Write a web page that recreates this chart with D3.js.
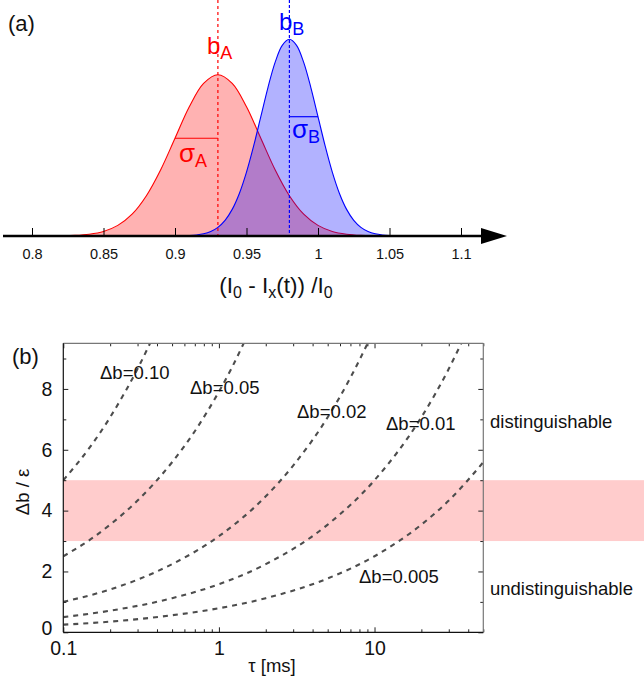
<!DOCTYPE html>
<html>
<head>
<meta charset="utf-8">
<script src="https://cdn.jsdelivr.net/npm/d3@7"></script>
<style>
  html, body { margin: 0; padding: 0; background: #fff; }
  svg { display: block; font-family: "Liberation Sans", Arial, Helvetica, sans-serif; }
</style>
</head>
<body>
<svg id="chart" width="644" height="679"></svg>
<script>
// ---------- Panel (a) data ----------
const topTickValues = [0.8, 0.85, 0.9, 0.95, 1.0, 1.05, 1.1];
const topTickLabels = ["0.8", "0.85", "0.9", "0.95", "1", "1.05", "1.1"];

const bA = 0.93, sigmaA = 0.03;
const bB = 0.98, sigmaB = 0.02;

// distribution A (relative height)
const xA = [0.78, 0.80, 0.81, 0.82, 0.83, 0.84, 0.85, 0.86, 0.87, 0.88, 0.89, 0.90, 0.91, 0.92, 0.93,
            0.94, 0.95, 0.96, 0.97, 0.98, 0.99, 1.00, 1.01, 1.02, 1.03, 1.04, 1.05, 1.06, 1.08];
const yA = [0.0000, 0.0001, 0.0003, 0.001, 0.003, 0.009, 0.023, 0.054, 0.111, 0.205, 0.337, 0.497, 0.657, 0.776, 0.820,
            0.776, 0.657, 0.497, 0.337, 0.205, 0.111, 0.054, 0.023, 0.009, 0.003, 0.001, 0.0003, 0.0001, 0.0000];
const sigmaAHeight = 0.497;

// distribution B
const xB = [0.86, 0.89, 0.895, 0.90, 0.905, 0.91, 0.915, 0.92, 0.925, 0.93, 0.935, 0.94, 0.945, 0.95, 0.955, 0.96, 0.965, 0.97, 0.975, 0.98,
            0.985, 0.99, 0.995, 1.00, 1.005, 1.01, 1.015, 1.02, 1.025, 1.03, 1.035, 1.04, 1.045, 1.05, 1.055, 1.06, 1.065, 1.07, 1.10];
const yB = [0.0000, 0.0000, 0.0001, 0.0003, 0.0009, 0.0022, 0.0051, 0.0111, 0.0228, 0.0439, 0.0796, 0.1353, 0.2163, 0.3247, 0.4578, 0.6065, 0.7548, 0.8825, 0.9692, 1.0000,
            0.9692, 0.8825, 0.7548, 0.6065, 0.4578, 0.3247, 0.2163, 0.1353, 0.0796, 0.0439, 0.0228, 0.0111, 0.0051, 0.0022, 0.0009, 0.0003, 0.0001, 0.0000, 0.0000];
const sigmaBHeight = 0.6065;

// ---------- Panel (b) data ----------
const bottomMajorX = [0.1, 1, 10];
const bottomMajorXLabels = ["0.1", "1", "10"];
const bottomMinorX = [0.2,0.3,0.4,0.5,0.6,0.7,0.8,0.9,2,3,4,5,6,7,8,9,20,30,40,50];
const bottomMajorY = [0, 2, 4, 6, 8];
const bottomMinorY = [1, 3, 5, 7, 9];
const bandLow = 3, bandHigh = 5;

const curveLabels = ["Δb=0.10", "Δb=0.05", "Δb=0.02", "Δb=0.01", "Δb=0.005"];
const tau010 = [0.1, 0.15, 0.2, 0.25, 0.3, 0.361];
const val010 = [5.0, 6.12, 7.07, 7.91, 8.66, 9.5];
const tau005 = [0.1, 0.15, 0.2, 0.3, 0.5, 0.7, 1.0, 1.2, 1.44];
const val005 = [2.5, 3.06, 3.54, 4.33, 5.59, 6.61, 7.91, 8.66, 9.49];
const tau002 = [0.1, 0.2, 0.3, 0.5, 1, 2, 3, 5, 7, 9.03];
const val002 = [1.0, 1.41, 1.73, 2.24, 3.16, 4.47, 5.48, 7.07, 8.37, 9.5];
const tau001 = [0.1, 0.2, 0.5, 1, 2, 5, 10, 20, 30, 36.1];
const val001 = [0.5, 0.71, 1.12, 1.58, 2.24, 3.54, 5.0, 7.07, 8.66, 9.5];
const tau0005 = [0.1, 0.2, 0.5, 1, 2, 5, 10, 20, 30, 50];
const val0005 = [0.25, 0.35, 0.56, 0.79, 1.12, 1.77, 2.5, 3.54, 4.33, 5.59];

// ================= drawing =================
const svg = d3.select("#chart");

// ---------- Panel (a) ----------
const tx = d3.scaleLinear().domain([0.8, 1.1]).range([32, 461]);
const ty = d3.scaleLinear().domain([0, 1]).range([236, 39.3]);
const gA = svg.append("g");

const area = d3.area().x(d => tx(d[0])).y0(ty(0)).y1(d => ty(d[1])).curve(d3.curveCatmullRom);
const line = d3.line().x(d => tx(d[0])).y(d => ty(d[1])).curve(d3.curveCatmullRom);
const dataA = xA.map((x, i) => [x, yA[i]]);
const dataB = xB.map((x, i) => [x, yB[i]]);

gA.append("path").datum(dataA).attr("d", area).attr("fill", "rgba(255,0,0,0.3)");
gA.append("path").datum(dataA).attr("d", line).attr("fill", "none").attr("stroke", "#ff0000").attr("stroke-width", 1.1);
gA.append("path").datum(dataB).attr("d", area).attr("fill", "rgba(0,0,255,0.3)");
gA.append("path").datum(dataB).attr("d", line).attr("fill", "none").attr("stroke", "#0000ff").attr("stroke-width", 1.1);

// vertical dashed lines
gA.append("line").attr("x1", tx(bA)).attr("x2", tx(bA)).attr("y1", 0).attr("y2", ty(0))
  .attr("stroke", "#ff0000").attr("stroke-width", 1.2).attr("stroke-dasharray", "3,3");
gA.append("line").attr("x1", tx(bB)).attr("x2", tx(bB)).attr("y1", 0).attr("y2", ty(0))
  .attr("stroke", "#0000ff").attr("stroke-width", 1.2).attr("stroke-dasharray", "3,2");

// sigma lines
gA.append("line").attr("x1", tx(bA - sigmaA)).attr("x2", tx(bA)).attr("y1", ty(sigmaAHeight)).attr("y2", ty(sigmaAHeight))
  .attr("stroke", "#ff0000").attr("stroke-width", 1.2);
gA.append("line").attr("x1", tx(bB)).attr("x2", tx(bB + sigmaB)).attr("y1", ty(sigmaBHeight)).attr("y2", ty(sigmaBHeight))
  .attr("stroke", "#0000ff").attr("stroke-width", 1.2);

// axis with arrow
const axA = gA.append("g").attr("transform", `translate(0,${ty(0)})`)
  .call(d3.axisBottom(tx).tickValues(topTickValues).tickFormat((d, i) => topTickLabels[i])
        .tickSizeInner(-8).tickSizeOuter(0).tickPadding(13));
axA.select(".domain").remove();
axA.selectAll("line").attr("stroke", "#000");
axA.selectAll("text").attr("font-size", 14.5).attr("fill", "#111").attr("font-family", "Liberation Sans, Arial, sans-serif");
gA.append("line").attr("x1", 3).attr("x2", 484).attr("y1", ty(0)).attr("y2", ty(0)).attr("stroke", "#000").attr("stroke-width", 2.5);
gA.append("path").attr("d", `M481,${ty(0) - 8}L507,${ty(0)}L481,${ty(0) + 8}Z`).attr("fill", "#000");

// labels panel (a)
gA.append("text").attr("x", 8).attr("y", 31).attr("font-size", 22).attr("fill", "#111").text("(a)");
function subLabel(g, x, y, main, sub, color, size, subSize, dy) {
  const t = g.append("text").attr("x", x).attr("y", y).attr("fill", color).attr("font-size", size);
  t.append("tspan").text(main);
  t.append("tspan").attr("font-size", subSize).attr("dy", dy).text(sub);
  return t;
}
subLabel(gA, 207, 54, "b", "A", "#ff0000", 24, 18, 5);
subLabel(gA, 279, 30, "b", "B", "#0000ff", 24, 18, 5);
subLabel(gA, 179, 162, "σ", "A", "#ff0000", 26, 18, 5);
subLabel(gA, 292, 138, "σ", "B", "#0000ff", 26, 18, 5);

// x label
const xl = gA.append("text").attr("x", 276).attr("y", 293).attr("text-anchor", "middle").attr("font-size", 22.5).attr("fill", "#111");
xl.append("tspan").text("(I");
xl.append("tspan").attr("font-size", 16).attr("dy", 5).text("0");
xl.append("tspan").attr("dy", -5).text(" - I");
xl.append("tspan").attr("font-size", 16).attr("dy", 5).text("x");
xl.append("tspan").attr("dy", -5).text("(t)) /I");
xl.append("tspan").attr("font-size", 16).attr("dy", 5).text("0");

// ---------- Panel (b) ----------
const bx = d3.scaleLog().domain([0.1, 50]).range([63.3, 483.3]);
const by = d3.scaleLinear().domain([0, 9.5]).range([632.3, 343.3]);
const gB = svg.append("g");

// band
gB.append("rect").attr("x", bx(0.1)).attr("width", 644 - bx(0.1))
  .attr("y", by(bandHigh)).attr("height", by(bandLow) - by(bandHigh)).attr("fill", "#ffcccc");

// clip
svg.append("clipPath").attr("id", "plotclip").append("rect")
  .attr("x", bx(0.1)).attr("y", by(9.5)).attr("width", bx(50) - bx(0.1)).attr("height", by(0) - by(9.5));

const curveSets = [[tau010, val010], [tau005, val005], [tau002, val002], [tau001, val001], [tau0005, val0005]];
const cline = d3.line().x(d => bx(d[0])).y(d => by(d[1])).curve(d3.curveMonotoneX);
const curvesG = gB.append("g").attr("clip-path", "url(#plotclip)");
curveSets.forEach(([t, v]) => {
  curvesG.append("path").datum(t.map((x, i) => [x, v[i]])).attr("d", cline)
    .attr("fill", "none").attr("stroke", "#4d4d4d").attr("stroke-width", 2.1).attr("stroke-dasharray", "5,5");
});

// axes (ticks inward)
function styleAxis(sel) {
  sel.select(".domain").remove();
  sel.selectAll("line").attr("stroke", "#222");
  sel.selectAll("text").attr("font-size", 19.5).attr("fill", "#111").attr("font-family", "Liberation Sans, Arial, sans-serif");
}
const xBot = gB.append("g").attr("transform", `translate(0,${by(0)})`)
  .call(d3.axisBottom(bx).tickValues(bottomMajorX).tickFormat((d, i) => bottomMajorXLabels[i]).tickSizeInner(-5).tickSizeOuter(0).tickPadding(9));
styleAxis(xBot);
const xBotMin = gB.append("g").attr("transform", `translate(0,${by(0)})`)
  .call(d3.axisBottom(bx).tickValues(bottomMinorX).tickFormat("").tickSizeInner(-3).tickSizeOuter(0));
styleAxis(xBotMin);
const xTop = gB.append("g").attr("transform", `translate(0,${by(9.5)})`)
  .call(d3.axisTop(bx).tickValues(bottomMajorX).tickFormat("").tickSizeInner(-5).tickSizeOuter(0));
styleAxis(xTop);
const xTopMin = gB.append("g").attr("transform", `translate(0,${by(9.5)})`)
  .call(d3.axisTop(bx).tickValues(bottomMinorX).tickFormat("").tickSizeInner(-3).tickSizeOuter(0));
styleAxis(xTopMin);
const yLeft = gB.append("g").attr("transform", `translate(${bx(0.1)},0)`)
  .call(d3.axisLeft(by).tickValues(bottomMajorY).tickFormat(d3.format("d")).tickSizeInner(-5).tickSizeOuter(0).tickPadding(11));
styleAxis(yLeft);
// lift the "0" label slightly so it clears the "0.1" label
yLeft.selectAll(".tick").filter(d => d === 0).select("text").attr("dy", "0.1em");
const yLeftMin = gB.append("g").attr("transform", `translate(${bx(0.1)},0)`)
  .call(d3.axisLeft(by).tickValues(bottomMinorY).tickFormat("").tickSizeInner(-3).tickSizeOuter(0));
styleAxis(yLeftMin);
const yRight = gB.append("g").attr("transform", `translate(${bx(50)},0)`)
  .call(d3.axisRight(by).tickValues(bottomMajorY).tickFormat("").tickSizeInner(-5).tickSizeOuter(0));
styleAxis(yRight);
const yRightMin = gB.append("g").attr("transform", `translate(${bx(50)},0)`)
  .call(d3.axisRight(by).tickValues(bottomMinorY).tickFormat("").tickSizeInner(-3).tickSizeOuter(0));
styleAxis(yRightMin);

// frame
gB.append("line").attr("x1", bx(0.1)).attr("x2", bx(50)).attr("y1", by(9.5)).attr("y2", by(9.5)).attr("stroke", "#777").attr("stroke-width", 1.2);
gB.append("line").attr("x1", bx(50)).attr("x2", bx(50)).attr("y1", by(9.5)).attr("y2", by(0)).attr("stroke", "#777").attr("stroke-width", 1.2);
gB.append("line").attr("x1", bx(0.1)).attr("x2", bx(0.1)).attr("y1", by(9.5)).attr("y2", by(0)).attr("stroke", "#111").attr("stroke-width", 1.2);
gB.append("line").attr("x1", bx(0.1)).attr("x2", bx(50)).attr("y1", by(0)).attr("y2", by(0)).attr("stroke", "#111").attr("stroke-width", 1.2);

// labels panel (b)
gB.append("text").attr("x", 12).attr("y", 364).attr("font-size", 22).attr("fill", "#111").text("(b)");
const labelPos = [[100, 379], [190, 394], [297, 418], [386, 430], [359, 583]];
curveLabels.forEach((s, i) => {
  gB.append("text").attr("x", labelPos[i][0]).attr("y", labelPos[i][1]).attr("font-size", 18.5).attr("fill", "#111").text(s);
});
gB.append("text").attr("x", 490).attr("y", 428).attr("font-size", 18.5).attr("fill", "#111").text("distinguishable");
gB.append("text").attr("x", 490).attr("y", 595).attr("font-size", 18.5).attr("fill", "#111").text("undistinguishable");
gB.append("text").attr("x", 272).attr("y", 672).attr("text-anchor", "middle").attr("font-size", 18.5).attr("fill", "#111").text("τ [ms]");
gB.append("text").attr("transform", "translate(29,492) rotate(-90)").attr("text-anchor", "middle").attr("font-size", 18.5).attr("fill", "#111").text("Δb / ε");
</script>
</body>
</html>
